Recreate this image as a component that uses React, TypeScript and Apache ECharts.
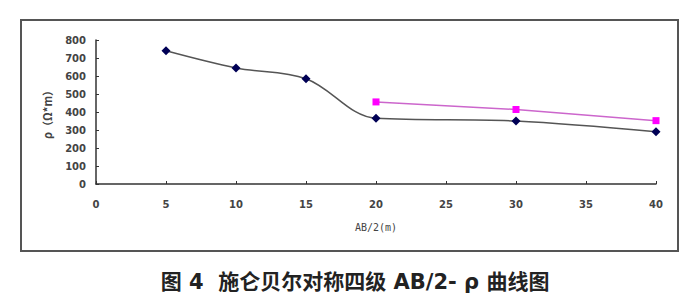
import React, { useEffect, useRef } from "react";
import * as echarts from "echarts";

const xTicks = [0, 5, 10, 15, 20, 25, 30, 35, 40];
const seriesA_x = [5, 10, 15, 20, 30, 40];
const seriesA_y = [740, 645, 585, 365, 350, 290];
const seriesB_x = [20, 30, 40];
const seriesB_y = [456, 414, 352];
const yAxisName = "ρ（Ω*m）";
const xAxisName = "AB/2(m)";
const caption = "图 4  施仑贝尔对称四级 AB/2- ρ 曲线图";

export default function App() {
  const ref = useRef<HTMLDivElement>(null);
  useEffect(() => {
    document.body.style.margin = "0";
    const chart = echarts.init(ref.current!, null, { renderer: "svg" });
    const labelStyle = {
      color: "#444",
      fontSize: 10,
      fontWeight: "bold" as const,
      fontFamily: "DejaVu Sans",
    };
    chart.setOption({
      animation: false,
      backgroundColor: "#fff",
      grid: { left: 96, right: 44, top: 40, bottom: 120, containLabel: false },
      xAxis: {
        type: "value",
        min: xTicks[0],
        max: xTicks[xTicks.length - 1],
        interval: 5,
        name: xAxisName,
        nameLocation: "middle",
        nameGap: 38,
        nameTextStyle: { color: "#444", fontSize: 10, fontFamily: "DejaVu Sans Mono" },
        axisLine: { lineStyle: { color: "#333", width: 1.5 } },
        axisTick: { inside: true, length: 3, lineStyle: { color: "#333" } },
        axisLabel: { ...labelStyle, margin: 15 },
        splitLine: { show: false },
      },
      yAxis: {
        type: "value",
        min: 0,
        max: 800,
        interval: 100,
        name: yAxisName,
        nameLocation: "middle",
        nameGap: 44,
        nameRotate: 90,
        nameTextStyle: { color: "#444", fontSize: 11, fontWeight: "bold", fontFamily: "Noto Sans CJK SC" },
        axisLine: { show: true, lineStyle: { color: "#333", width: 1.5 } },
        axisTick: { show: true, inside: true, length: 3, lineStyle: { color: "#333" } },
        axisLabel: { ...labelStyle, margin: 10 },
        splitLine: { show: false },
      },
      series: [
        {
          type: "line",
          data: seriesA_x.map((x, i) => [x, seriesA_y[i]]),
          smooth: 0.35,
          symbol: "diamond",
          symbolSize: 9,
          itemStyle: { color: "#000055" },
          lineStyle: { color: "#555", width: 1.5 },
          z: 3,
        },
        {
          type: "line",
          data: seriesB_x.map((x, i) => [x, seriesB_y[i]]),
          symbol: "rect",
          symbolSize: 7,
          itemStyle: { color: "#ff00ff" },
          lineStyle: { color: "#cc66cc", width: 1.5 },
          z: 2,
        },
      ],
      graphic: [
        {
          type: "rect",
          shape: { x: 21, y: 20, width: 657, height: 231 },
          style: { fill: "none", stroke: "#555", lineWidth: 2 },
          silent: true,
        },
        {
          type: "text",
          x: 355,
          y: 282,
          style: {
            text: caption,
            fill: "#222",
            fontSize: 21,
            fontWeight: "bold",
            fontFamily: "'DejaVu Sans', 'Noto Sans CJK SC'",
            align: "center",
            verticalAlign: "middle",
          },
        },
      ],
    });
    return () => chart.dispose();
  }, []);
  return <div ref={ref} style={{ width: 700, height: 304 }} />;
}
